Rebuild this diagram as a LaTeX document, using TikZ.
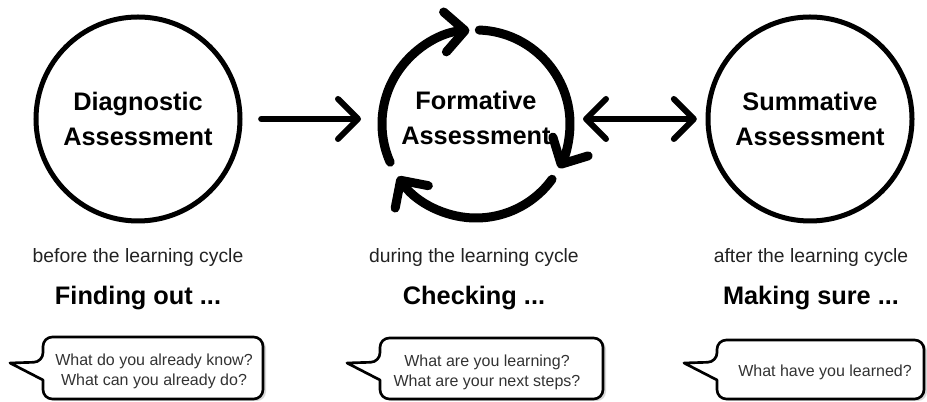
\documentclass[tikz,border=0pt]{standalone}
\usepackage{fontspec}
\setmainfont{Liberation Sans}
\usepackage{tikz}
\usetikzlibrary{arrows.meta}
\definecolor{ink}{HTML}{222222}
\definecolor{talk}{HTML}{333333}
\tikzset{>=stealth}
\tikzset{chev/.tip={Straight Barb[length=15pt,width=30pt,round]}}

\begin{document}
\begin{tikzpicture}[x=0.75pt, y=0.75pt,
    stage/.style={circle, draw, line width=3.75pt, minimum size=153pt, align=center,
      font=\bfseries\fontsize{19}{26}\selectfont},
    when/.style={text=ink, font=\fontsize{14.5}{17}\selectfont},
    motto/.style={font=\bfseries\fontsize{19}{22}\selectfont},
    arr/.style={line width=4.5pt, line cap=round},
    cyc/.style={line width=6.75pt, line cap=round, -{chev}},
    bubble/.style={draw, line width=2pt, fill=white, line join=round},
    shade/.style={fill=black!15},
    ask/.style={align=center, text=talk, font=\fontsize{12}{15}\selectfont}]
      \useasboundingbox (0,0) rectangle (927,402);

      % the three stages
      \node[stage] (diag) at (138,283) {Diagnostic\\Assessment};
      \node[circle, minimum size=141pt, align=center, inner sep=0pt, outer sep=0pt,
        font=\bfseries\fontsize{19}{26}\selectfont] (form) at (476,284) {Formative\\Assessment};
      \node[stage] (summ) at (810,283) {Summative\\Assessment};
      \coordinate (hub) at (476,278);

      % cycle round the formative stage
      \foreach \s/\e in {88/-28, -36/-146, -156/-266}
        \draw[cyc] ([shift={(\s:94)}]hub) arc[start angle=\s, end angle=\e, radius=94];

      \draw[arr, -{chev}, shorten <=14pt, shorten >=15.75pt] (diag) -- (diag -| form.west);
      \draw[arr, {chev}-{chev}, shorten <=9.75pt, shorten >=6.5pt] (summ -| form.east) -- (summ);

      % when and what
      \node[when] (before) at (138,144) {before the learning cycle};
      \node[when] (during) at (474,144) {during the learning cycle};
      \node[when] (after) at (811,144) {after the learning cycle};
      \node[motto] (find) at (138,104) {Finding out ...};
      \node[motto] (check) at (474,104) {Checking ...};
      \node[motto] (sure) at (811,104) {Making sure ...};

      % speech bubbles
      \foreach \l/\r/\t in {43/263/65, 380/603/64, 717/924/62} {
        \fill[shade, shift={(3,-2)}] (\l,40) -- ++(-33,-1) -- (\l,22)
          [rounded corners=7pt] -- (\l,3) -- (\r,3) -- (\r,\t) -- (\l,\t) -- cycle;
        \draw[bubble] (\l,40) -- ++(-33,-1) -- (\l,22)
          [rounded corners=7pt] -- (\l,3) -- (\r,3) -- (\r,\t) -- (\l,\t) -- cycle;
      }
      \node[ask] (ask1) at (154,31) {What do you already know?\\What can you already do?};
      \node[ask] (ask2) at (487,30) {What are you learning?\\What are your next steps?};
      \node[ask] (ask3) at (825,30) {What have you learned?};
    \end{tikzpicture}
\end{document}
